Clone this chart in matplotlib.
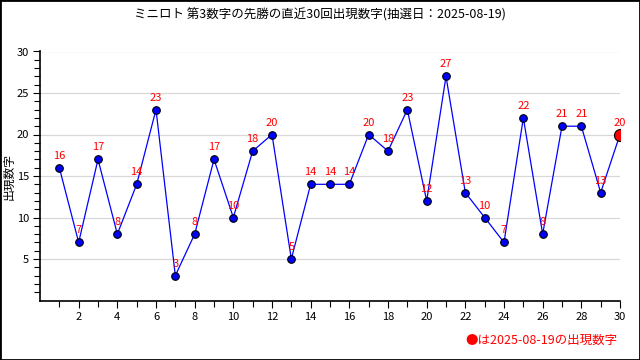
import matplotlib
matplotlib.use("Agg")
import matplotlib.pyplot as plt
from matplotlib.patches import Rectangle

plt.rcParams['font.family'] = ['Noto Sans CJK JP', 'DejaVu Sans']

title = "ミニロト 第3数字の先勝の直近30回出現数字(抽選日：2025-08-19)"
ylabel = "出現数字"
note = "●は2025-08-19の出現数字"
draws = list(range(1, 31))
numbers = [16, 7, 17, 8, 14, 23, 3, 8, 17, 10, 18, 20, 5, 14, 14,
           14, 20, 18, 23, 12, 27, 13, 10, 7, 22, 8, 21, 21, 13, 20]

fig = plt.figure(figsize=(6.4, 3.6), dpi=100)
ax = fig.add_axes([40 / 640, 1 - 300.5 / 360, 580 / 640, 249 / 360])

ax.plot(draws, numbers, color="#0000ff", lw=0.9, zorder=3)
ax.scatter(draws[:-1], numbers[:-1], s=30, color="#0000ff",
           edgecolors="black", linewidths=0.8, zorder=4)
ax.scatter(draws[-1:], numbers[-1:], s=75, color="#ff0000",
           edgecolors="black", linewidths=0.8, zorder=5)
for x, y in zip(draws, numbers):
    ax.annotate(str(y), (x, y), xytext=(0, 5), textcoords="offset points",
                ha="center", va="bottom", color="#ff0000", fontsize=8, zorder=6)

ax.set_xlim(0, 30)
ax.set_ylim(0, 30)
ax.set_xticks(range(2, 31, 2))
ax.set_xticks(range(1, 31), minor=True)
ax.set_yticks(range(5, 31, 5))
ax.set_yticks(range(1, 31), minor=True)
ax.tick_params(labelsize=8, direction="out", length=5, width=0.8, pad=3)
ax.tick_params(which="minor", direction="out", length=4, width=0.8)
ax.grid(axis="y", color="#d8d8d8", lw=0.9)
ax.set_axisbelow(True)
for s in ("top", "right"):
    ax.spines[s].set_visible(False)
ax.spines["left"].set_linewidth(1.2)
ax.spines["bottom"].set_linewidth(1.2)

fig.text(9 / 640, 1 - 176 / 360, ylabel, rotation=90, ha="center",
         va="center", fontsize=8.5)
fig.text(0.5, 1 - 15 / 360, title, ha="center", va="center", fontsize=9)
fig.text(617 / 640, 1 - 340 / 360, note, ha="right", va="center",
         color="#ff0000", fontsize=9)

fig.patches.append(Rectangle((0, 0), 1, 1, transform=fig.transFigure,
                             fill=False, edgecolor="black", lw=2))

fig.savefig("out.png", dpi=100)
